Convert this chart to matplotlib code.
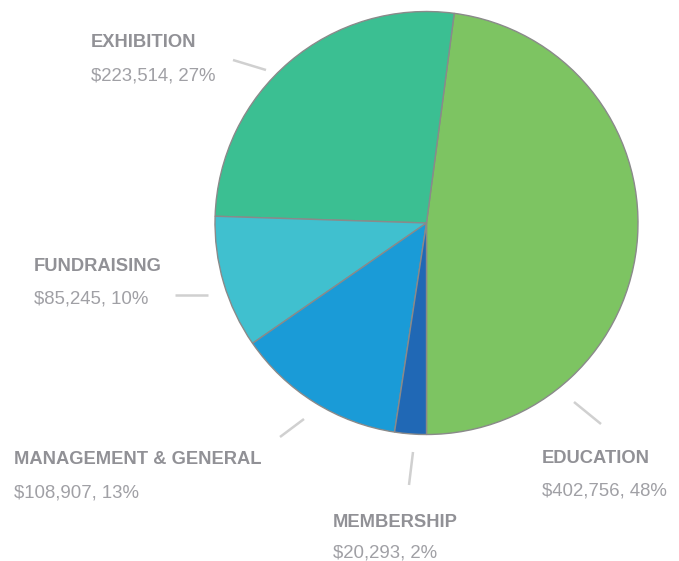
import matplotlib
matplotlib.use('Agg')
import matplotlib.pyplot as plt

categories = ['EDUCATION', 'EXHIBITION', 'FUNDRAISING', 'MANAGEMENT & GENERAL', 'MEMBERSHIP']
amounts = [402756, 223514, 85245, 108907, 20293]
percents = [48, 27, 10, 13, 2]
colors = ['#7dc462', '#3bbf92', '#40c0cf', '#1a9bd7', '#2068b5']

W, H = 679, 561
plt.rcParams['font.family'] = ['Liberation Sans', 'DejaVu Sans']

fig = plt.figure(figsize=(W / 100, H / 100), dpi=100)
ax = fig.add_axes([0, 0, 1, 1])

ax.pie(amounts, colors=colors, startangle=-90, counterclock=True,
       center=(426.5, H - 223), radius=211.5,
       wedgeprops=dict(edgecolor='#8a8a8a', linewidth=1))

# label placement in pixel coords (x, title baseline, value baseline) and leader lines
label_pos = {
    'EDUCATION': (542, 463, 496, [(574, 402), (601, 424)]),
    'EXHIBITION': (91, 47, 80, [(233, 60), (266, 70)]),
    'FUNDRAISING': (34, 271, 303, [(175, 295), (208, 295)]),
    'MANAGEMENT & GENERAL': (14, 464, 497, [(280, 437), (304, 419)]),
    'MEMBERSHIP': (333, 527, 557, [(413, 452), (409, 485)]),
}

for cat, amt, pct in zip(categories, amounts, percents):
    x, yt, yv, line = label_pos[cat]
    ax.text(x, H - yt, cat, fontsize=13.2, fontweight='bold', color='#919196',
            ha='left', va='baseline')
    ax.text(x, H - yv, f'${amt:,}, {pct}%', fontsize=13.4, color='#a0a0a5',
            ha='left', va='baseline')
    ax.plot([line[0][0], line[1][0]], [H - line[0][1], H - line[1][1]],
            color='#d0d0d0', linewidth=1.8, solid_capstyle='butt')

ax.set_xlim(0, W)
ax.set_ylim(0, H)
ax.set_aspect('equal')
ax.axis('off')

fig.savefig('out.png', dpi=100, facecolor='white')
